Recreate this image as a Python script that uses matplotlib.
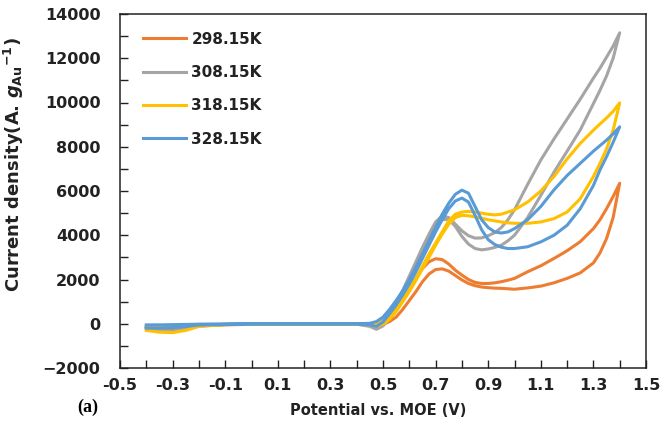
import matplotlib
matplotlib.use("Agg")
import matplotlib.pyplot as plt
from matplotlib.ticker import MultipleLocator, FixedLocator

plt.rcParams['font.family'] = ['DejaVu Sans']
plt.rcParams['mathtext.fontset'] = 'custom'
plt.rcParams['mathtext.rm'] = 'DejaVu Sans:bold'
plt.rcParams['mathtext.it'] = 'DejaVu Sans:italic:bold'

# potential grid (V), shared by both scan branches
E = [-0.40, -0.35, -0.30, -0.25, -0.20, -0.10, 0.00, 0.10, 0.20, 0.30, 0.40,
     0.45, 0.475, 0.50, 0.525, 0.55, 0.575, 0.60, 0.625, 0.65, 0.675, 0.70,
     0.725, 0.75, 0.775, 0.80, 0.825, 0.85, 0.875, 0.90, 0.925, 0.95, 0.975,
     1.00, 1.05, 1.10, 1.15, 1.20, 1.25, 1.30, 1.325, 1.35, 1.375, 1.40]

# current density, upper branch (a) and lower branch (b) of each loop
j298_a = [-150, -120, -100, -80, -60, -40, -30, -20, -20, -20, -20,
          -20, 0, 60, 250, 600, 1050, 1550, 2050, 2500, 2800, 2940,
          2900, 2700, 2420, 2200, 2000, 1870, 1820, 1820, 1850, 1900, 1970,
          2050, 2350, 2620, 2950, 3300, 3710, 4300, 4700, 5200, 5750, 6350]
j298_b = [-150, -250, -280, -200, -100, -40, -30, -30, -30, -30, -30,
          -50, -60, -20, 100, 300, 650, 1050, 1450, 1900, 2250, 2450,
          2480, 2380, 2180, 1980, 1820, 1720, 1660, 1630, 1610, 1600, 1580,
          1560, 1620, 1700, 1850, 2050, 2300, 2750, 3200, 3850, 4800, 6350]

j308_a = [-100, -100, -80, -50, -30, -20, -10, -10, -10, -10, -10,
          0, 30, 150, 450, 900, 1500, 2150, 2800, 3450, 4050, 4600,
          4880, 4800, 4500, 4200, 3980, 3870, 3880, 3980, 4120, 4350, 4700,
          5150, 6300, 7400, 8350, 9250, 10150, 11100, 11550, 12050, 12550, 13150]
j308_b = [-200, -300, -330, -250, -100, -40, -20, -20, -20, -20, -20,
          -120, -250, -100, 250, 750, 1300, 1950, 2600, 3250, 3850, 4350,
          4700, 4720, 4400, 3950, 3600, 3400, 3340, 3380, 3450, 3550, 3750,
          4000, 4800, 5800, 6850, 7800, 8760, 9950, 10550, 11200, 12000, 13150]

j318_a = [-200, -150, -120, -80, -50, -30, -10, -10, -10, -10, -10,
          0, 20, 100, 300, 650, 1100, 1550, 2050, 2600, 3150, 3650,
          4150, 4650, 4950, 5050, 5080, 5050, 5000, 4950, 4920, 4950, 5050,
          5150, 5500, 6000, 6650, 7450, 8150, 8750, 9030, 9300, 9600, 9980]
j318_b = [-300, -380, -400, -300, -120, -40, -20, -20, -20, -20, -20,
          -60, -120, -20, 200, 550, 1000, 1450, 1950, 2500, 3000, 3550,
          4050, 4500, 4800, 4900, 4880, 4830, 4770, 4700, 4650, 4600, 4560,
          4540, 4540, 4600, 4750, 5050, 5650, 6650, 7250, 7900, 8750, 9980]

j328_a = [-50, -50, -40, -30, -20, -10, 0, 0, 0, 0, 0,
          20, 100, 300, 650, 1050, 1500, 2000, 2550, 3150, 3750, 4350,
          4950, 5450, 5850, 6040, 5900, 5300, 4700, 4350, 4150, 4100, 4150,
          4300, 4700, 5300, 6050, 6700, 7250, 7800, 8050, 8300, 8580, 8900]
j328_b = [-200, -200, -180, -120, -60, -30, -10, -10, -10, -10, -10,
          -60, -120, 80, 450, 850, 1300, 1800, 2350, 2950, 3550, 4150,
          4700, 5200, 5550, 5680, 5500, 4900, 4250, 3800, 3580, 3460, 3400,
          3400, 3480, 3700, 4000, 4450, 5200, 6250, 6950, 7550, 8200, 8900]

labels = ['298.15K', '308.15K', '318.15K', '328.15K']
colors = ['#ED7D31', '#A5A5A5', '#FFC000', '#5B9BD5']
branches = [(j298_a, j298_b), (j308_a, j308_b), (j318_a, j318_b), (j328_a, j328_b)]

fig = plt.figure(figsize=(6.63, 4.37), dpi=100)
ax = fig.add_axes([120 / 663, 1 - 368 / 437, 526 / 663, 354 / 437])

for (ja, jb), c, lbl in zip(branches, colors, labels):
    ax.plot(E + E[::-1], ja + jb[::-1], color=c, lw=2.2, label=lbl,
            solid_joinstyle='round')

ax.set_xlim(-0.5, 1.5)
ax.set_ylim(-2000, 14000)
ax.xaxis.set_major_locator(FixedLocator([-0.5 + 0.2 * i for i in range(11)]))
ax.xaxis.set_minor_locator(FixedLocator([-0.4 + 0.2 * i for i in range(10)]))
ax.yaxis.set_major_locator(MultipleLocator(2000))
ax.yaxis.set_minor_locator(MultipleLocator(1000))
ax.xaxis.set_major_formatter(plt.FuncFormatter(lambda v, p: f'{v:.1f}'))

ax.tick_params(which='both', direction='in', length=6, width=1.0, color='#222222')
ax.tick_params(axis='x', which='both', top=False, pad=7)
ax.tick_params(axis='y', which='both', right=False, pad=14)
for t in ax.get_xticklabels() + ax.get_yticklabels():
    t.set_fontweight('bold')
    t.set_fontsize(11.5)
    t.set_color('#222222')
for s in ax.spines.values():
    s.set_linewidth(1.1)
    s.set_color('#222222')

ax.set_xlabel('Potential vs. MOE (V)', fontsize=10.5, fontweight='bold', color='#222222')
ax.xaxis.set_label_coords(0.49, -0.098)
ax.set_ylabel(r'Current density(A. $\mathit{g}_{\mathrm{Au}}$$^{-1}$)',
              fontsize=13, fontweight='bold', color='#222222')
ax.yaxis.set_label_coords(-0.178, 0.575)

leg = ax.legend(loc='upper left', bbox_to_anchor=(0.044, 0.95), frameon=False,
                borderpad=0, borderaxespad=0, handlelength=2.8,
                handletextpad=0.35, labelspacing=1.2,
                prop={'weight': 'bold', 'size': 11})
for t in leg.get_texts():
    t.set_color('#222222')

fig.text(88 / 663, 1 - 407 / 437, '(a)', family='Liberation Serif',
         fontweight='bold', fontsize=13, ha='center', va='center')

fig.savefig('out.png', dpi=100)
